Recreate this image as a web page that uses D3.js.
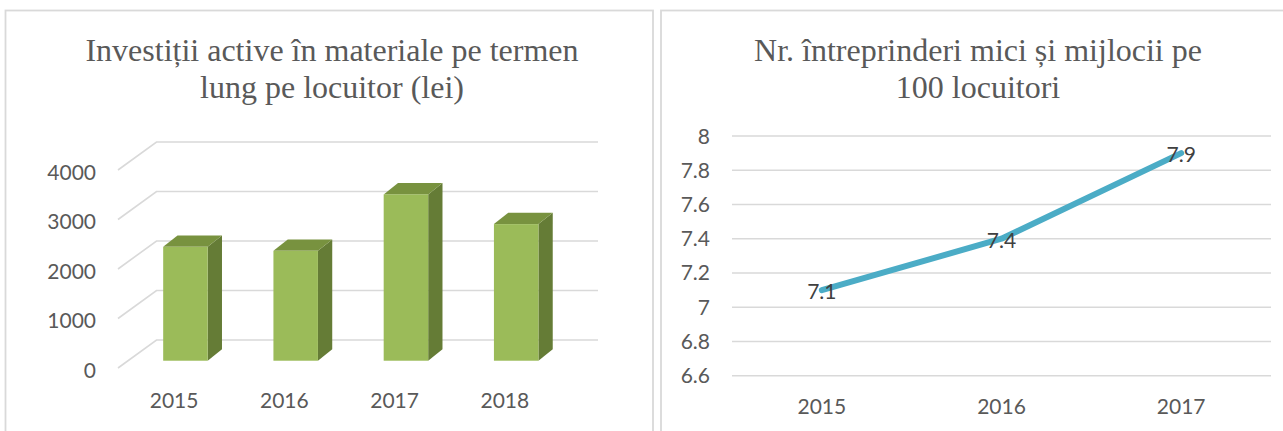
<!DOCTYPE html>
<html>
<head>
<meta charset="utf-8">
<script src="https://cdn.jsdelivr.net/npm/d3@7"></script>
<style>
  html, body { margin: 0; padding: 0; background: #fff; }
  svg { display: block; }
</style>
</head>
<body>
<svg id="chart" width="1283" height="431"></svg>
<script>
// ---- Data ----
const barTitle = ["Investiții active în materiale pe termen", "lung pe locuitor (lei)"];
const barYears = ["2015", "2016", "2017", "2018"];
const barValues = [2300, 2220, 3360, 2760];
const barTicks = [0, 1000, 2000, 3000, 4000];

const lineTitle = ["Nr. întreprinderi mici și mijlocii pe", "100 locuitori"];
const lineYears = ["2015", "2016", "2017"];
const lineValues = [7.1, 7.4, 7.9];
const lineTicks = [6.6, 6.8, 7, 7.2, 7.4, 7.6, 7.8, 8];

// ---- Setup ----
const svg = d3.select("#chart");
const gridColor = "#d9d9d9";
const textColor = "#595959";
const sansFont = "Lato, 'Open Sans', sans-serif";
const serifFont = "'Liberation Serif', 'Times New Roman', serif";

// Panel borders
svg.append("rect").attr("x", 5.5).attr("y", 10.5).attr("width", 647.5).attr("height", 440)
  .attr("fill", "none").attr("stroke", gridColor).attr("stroke-width", 1.8);
svg.append("rect").attr("x", 661).attr("y", 10.5).attr("width", 640).attr("height", 440)
  .attr("fill", "none").attr("stroke", gridColor).attr("stroke-width", 1.8);

function title(lines, cx) {
  const t = svg.append("text").attr("text-anchor", "middle")
    .attr("font-family", serifFont).attr("font-size", 32).attr("fill", textColor);
  lines.forEach((l, i) => t.append("tspan").attr("x", cx).attr("y", 61 + i * 37).text(l));
}
title(barTitle, 332);
title(lineTitle, 978);

// ---- Left: pseudo-3D column chart ----
const front = { x: 118, y: 368 };
const depth = { x: 38.5, y: -28 };
const backRight = 598;
const yH = d3.scaleLinear().domain([0, 4000]).range([0, 198]);
const xB = d3.scaleBand().domain(barYears).range([front.x, 559]);

const gL = svg.append("g");
// gridlines: diagonal on side wall + horizontal on back wall
barTicks.forEach(t => {
  const y0 = front.y - yH(t);
  gL.append("path")
    .attr("d", `M${front.x},${y0}L${front.x + depth.x},${y0 + depth.y}L${backRight},${y0 + depth.y}`)
    .attr("fill", "none").attr("stroke", gridColor).attr("stroke-width", 1.6);
  gL.append("text").attr("x", 96).attr("y", y0 + 9.5).attr("text-anchor", "end")
    .attr("font-family", sansFont).attr("font-size", 21).attr("fill", textColor).text(t);
});

// bars
const f = 0.26;              // depth position of bar front face
const bw = 44.5;             // bar width
const side = { x: 14.3, y: -11.4 }; // bar depth
barYears.forEach((yr, i) => {
  const cx = xB(yr) + xB.bandwidth() / 2 + f * depth.x + 2.3;
  const x0 = cx - bw / 2, x1 = cx + bw / 2;
  const yb = front.y + f * depth.y;
  const yt = yb - yH(barValues[i]);
  // side
  gL.append("path")
    .attr("d", `M${x1},${yb}L${x1 + side.x},${yb + side.y}L${x1 + side.x},${yt + side.y}L${x1},${yt}Z`)
    .attr("fill", "#657c36");
  // top
  gL.append("path")
    .attr("d", `M${x0},${yt}L${x0 + side.x},${yt + side.y}L${x1 + side.x},${yt + side.y}L${x1},${yt}Z`)
    .attr("fill", "#78923f");
  // front
  gL.append("rect").attr("x", x0).attr("y", yt).attr("width", bw).attr("height", yb - yt)
    .attr("fill", "#9bbb59");
  // category label
  gL.append("text").attr("x", xB(yr) + xB.bandwidth() / 2 + 1).attr("y", 408)
    .attr("text-anchor", "middle").attr("font-family", sansFont).attr("font-size", 21)
    .attr("fill", textColor).text(yr);
});

// ---- Right: line chart ----
const xL = d3.scaleBand().domain(lineYears).range([732, 1271]);
const yL = d3.scaleLinear().domain([6.6, 8]).range([375.7, 136]);
const gR = svg.append("g");

gR.selectAll("line.grid").data(lineTicks).join("line")
  .attr("x1", 732).attr("x2", 1271)
  .attr("y1", d => yL(d)).attr("y2", d => yL(d))
  .attr("stroke", gridColor).attr("stroke-width", 1.6);

gR.selectAll("text.ytick").data(lineTicks).join("text")
  .attr("x", 710).attr("y", d => yL(d) + 7.5).attr("text-anchor", "end")
  .attr("font-family", sansFont).attr("font-size", 21).attr("fill", textColor)
  .text(d => d3.format("")(d));

gR.selectAll("text.xtick").data(lineYears).join("text")
  .attr("x", d => xL(d) + xL.bandwidth() / 2).attr("y", 414).attr("text-anchor", "middle")
  .attr("font-family", sansFont).attr("font-size", 21).attr("fill", textColor).text(d => d);

const pts = lineYears.map((yr, i) => [xL(yr) + xL.bandwidth() / 2, yL(lineValues[i])]);
gR.append("path").attr("d", d3.line()(pts))
  .attr("fill", "none").attr("stroke", "#4bacc6").attr("stroke-width", 6)
  .attr("stroke-linecap", "round").attr("stroke-linejoin", "round");

gR.selectAll("text.dl").data(pts).join("text")
  .attr("x", d => d[0]).attr("y", (d) => d[1] + 9)
  .attr("text-anchor", "middle").attr("font-family", sansFont).attr("font-size", 21)
  .attr("fill", "#404040").text((d, i) => lineValues[i]);
</script>
</body>
</html>
